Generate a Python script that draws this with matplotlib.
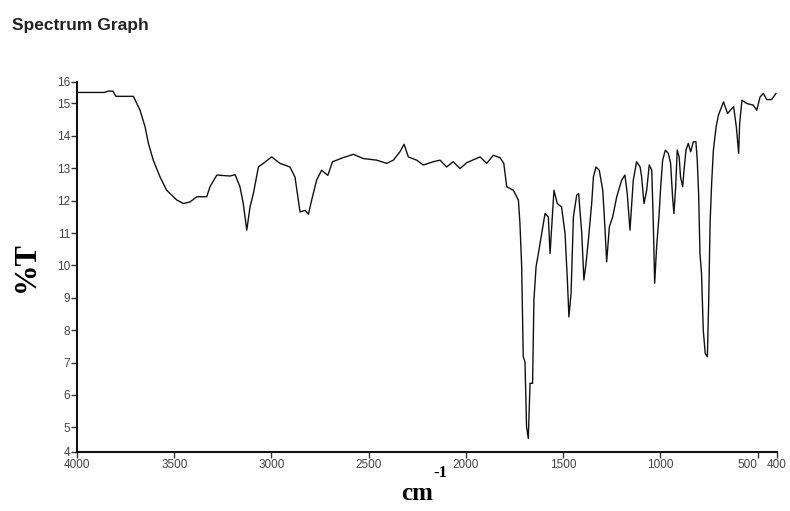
import matplotlib
matplotlib.use("Agg")
import matplotlib.pyplot as plt

# Data (wavenumber cm-1, %T)
wavenumber = [4000, 3860, 3840, 3815, 3800, 3710, 3676, 3650, 3633, 3608, 3573, 3539,
              3487, 3453, 3419, 3384, 3333, 3316, 3281, 3213, 3187, 3162, 3145, 3127,
              3110, 3093, 3067, 3042, 2999, 2956, 2905, 2879, 2862, 2853, 2827, 2810,
              2793, 2768, 2742, 2710, 2686, 2665, 2630, 2579, 2528, 2459, 2407, 2373,
              2339, 2318, 2296, 2253, 2219, 2168, 2133, 2099, 2065, 2030, 1996, 1927,
              1893, 1859, 1825, 1805, 1790, 1756, 1730, 1722, 1713, 1705, 1696, 1688,
              1679, 1670, 1657, 1650, 1639, 1627, 1610, 1593, 1576, 1567, 1547, 1530,
              1508, 1490, 1478, 1470, 1459, 1447, 1430, 1420, 1404, 1393, 1382, 1370,
              1353, 1344, 1331, 1314, 1296, 1285, 1276, 1262, 1245, 1224, 1199, 1182,
              1170, 1156, 1139, 1122, 1104, 1096, 1084, 1070, 1057, 1044, 1036, 1029,
              1019, 1007, 998, 988, 974, 959, 947, 937, 930, 921, 913, 903, 896, 885,
              878, 868, 856, 844, 830, 817, 810, 803, 796, 788, 779, 769, 758, 751, 744,
              736, 727, 713, 701, 675, 654, 640, 623, 609, 597, 592, 580, 556, 522, 504,
              487, 470, 453, 428, 405]
transmittance = [15.34, 15.34, 15.38, 15.38, 15.22, 15.22, 14.79, 14.28, 13.77, 13.25, 12.73, 12.32,
                 12.02, 11.91, 11.96, 12.12, 12.12, 12.43, 12.79, 12.76, 12.80, 12.43, 11.91, 11.09,
                 11.81, 12.22, 13.04, 13.15, 13.35, 13.15, 13.04, 12.73, 12.02, 11.65, 11.70, 11.58,
                 12.02, 12.63, 12.94, 12.78, 13.20, 13.25, 13.33, 13.43, 13.30, 13.25, 13.15, 13.25,
                 13.51, 13.74, 13.35, 13.25, 13.10, 13.20, 13.25, 13.04, 13.20, 12.99, 13.17, 13.35,
                 13.15, 13.40, 13.33, 13.15, 12.43, 12.32, 12.02, 11.30, 9.96, 7.18, 7.02, 5.02,
                 4.66, 6.36, 6.36, 8.93, 9.96, 10.37, 10.99, 11.60, 11.50, 10.37, 12.32, 11.91,
                 11.81, 10.99, 9.55, 8.41, 9.14, 11.50, 12.17, 12.22, 10.99, 9.55, 10.06, 10.78,
                 11.91, 12.73, 13.04, 12.94, 12.32, 11.19, 10.11, 11.19, 11.50, 12.12, 12.63, 12.79,
                 12.22, 11.09, 12.63, 13.20, 13.04, 12.73, 11.91, 12.32, 13.10, 12.94, 11.30, 9.45,
                 10.57, 11.50, 12.43, 13.25, 13.56, 13.46, 13.15, 12.12, 11.60, 12.43, 13.56, 13.35,
                 12.73, 12.43, 12.94, 13.56, 13.77, 13.51, 13.82, 13.82, 13.25, 12.22, 10.37, 9.75,
                 8.00, 7.28, 7.18, 8.93, 11.30, 12.53, 13.56, 14.28, 14.64, 15.05, 14.69, 14.79,
                 14.90, 14.28, 13.46, 14.38, 15.10, 15.00, 14.95, 14.79, 15.20, 15.31, 15.12, 15.12,
                 15.31]

x_ticks = [4000, 3500, 3000, 2500, 2000, 1500, 1000, 500, 400]
x_tick_labels = ["4000", "3500", "3000", "2500", "2000", "1500", "1000", "500", "400"]
y_tick_labels = ["4", "5", "6", "7", "8", "9", "10", "11", "12", "13", "14", "15", "16"]
y_min, y_max = 4.24, 15.67

sans = ["Liberation Sans", "DejaVu Sans"]
serif = ["Liberation Serif", "DejaVu Serif"]

fig = plt.figure(figsize=(7.9, 5.11), dpi=100)
ax = fig.add_axes([0.0975, 0.1155, 0.886, 0.7245])

ax.plot(wavenumber, transmittance, color="#111111", linewidth=1.0)

ax.set_xlim(4000, 400)
ax.set_ylim(y_min, y_max)

ax.set_xticks(x_ticks)
ax.set_xticklabels(x_tick_labels, family=sans, fontsize=8.5, color="#444444")
y_pos = [y_min] + list(range(5, 16)) + [y_max]
ax.set_yticks(y_pos)
ax.set_yticklabels(y_tick_labels, family=sans, fontsize=8.5, color="#444444")

# keep the crowded 500 / 400 labels apart
for lab in ax.get_xticklabels():
    if lab.get_text() == "500":
        lab.set_horizontalalignment("right")

for s in ["top", "right"]:
    ax.spines[s].set_visible(False)
for s in ["left", "bottom"]:
    ax.spines[s].set_linewidth(1.5)
    ax.spines[s].set_color("#111111")
ax.tick_params(direction="out", length=4, width=1, colors="#333333", pad=1)
ax.tick_params(axis="both", labelcolor="#444444")

fig.text(0.015, 0.95, "Spectrum Graph", family=sans, fontsize=12.5,
         fontweight="bold", color="#222222", ha="left", va="center")
fig.text(0.033, 0.478, "%T", family=serif, fontsize=22, fontweight="bold",
         rotation=90, ha="center", va="center")
fig.text(0.548, 0.022, "cm", family=serif, fontsize=18, fontweight="bold",
         ha="right", va="baseline")
fig.text(0.549, 0.066, "-1", family=serif, fontsize=12, fontweight="bold",
         ha="left", va="baseline")

fig.savefig("out.png", dpi=100, facecolor="white")
